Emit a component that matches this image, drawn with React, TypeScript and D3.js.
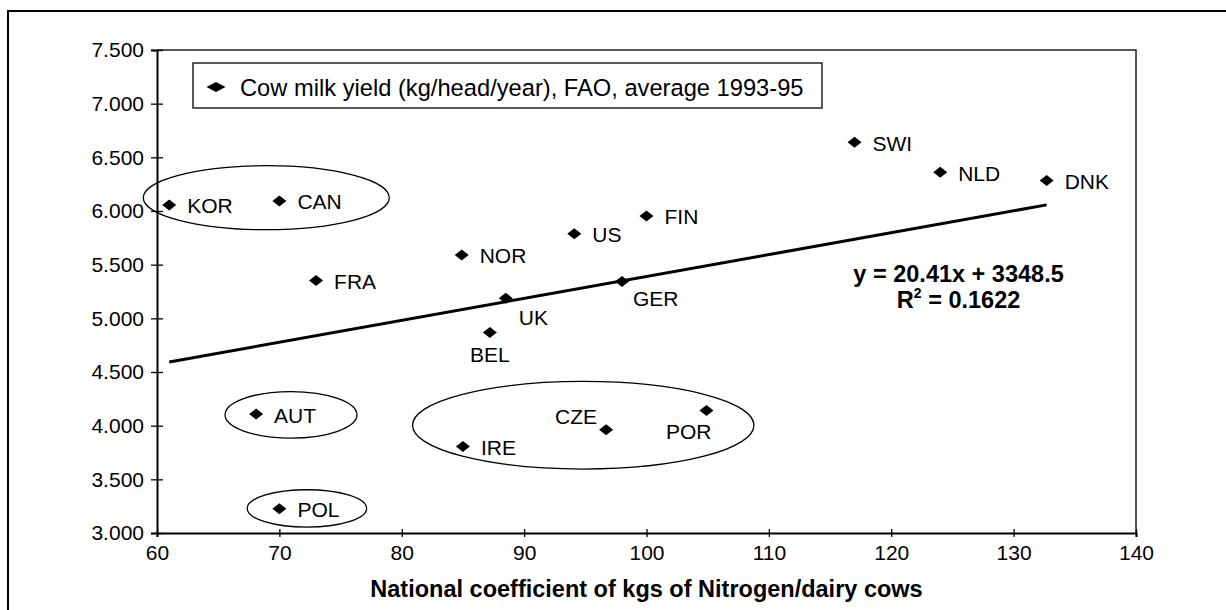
import { useEffect, useRef } from "react";
import * as d3 from "d3";

// Country codes and values
const countries = ["KOR", "CAN", "FRA", "NOR", "UK", "BEL", "AUT", "POL", "IRE", "CZE", "POR", "US", "FIN", "GER", "SWI", "NLD", "DNK"];
const nitrogen = [61, 70, 73, 84.9, 88.5, 87.2, 68.1, 70, 85, 96.7, 104.9, 94.1, 100, 98, 117, 124, 132.7];
const milkYield = [6057, 6094, 5352, 5591, 5188, 4868, 4108, 3226, 3806, 3962, 4142, 5787, 5954, 5343, 6640, 6361, 6283];

const xTicks = [60, 70, 80, 90, 100, 110, 120, 130, 140];
const yTicks = [3000, 3500, 4000, 4500, 5000, 5500, 6000, 6500, 7000, 7500];

// trend line shown on the chart
const slope = 20.41;
const intercept = 3348.5;

// groups circled on the chart (data units)
const groupCx = [68.93, 70.95, 72.25, 94.83];
const groupCy = [6124, 4101, 3229, 4004];
const groupRx = [10.05, 5.39, 4.88, 13.95];
const groupRy = [298, 217, 174, 408];

const legendText = "Cow milk yield (kg/head/year), FAO, average 1993-95";
const xTitle = "National coefficient of kgs of Nitrogen/dairy cows";

const FONT = "'Liberation Sans', Arial, sans-serif";

// label placement relative to the marker
const labelPos: Record<string, { dx: number; dy: number; anchor: string }> = {
    UK: { dx: 13, dy: 18, anchor: "start" },
    BEL: { dx: 0, dy: 21, anchor: "middle" },
    GER: { dx: 11, dy: 16, anchor: "start" },
    CZE: { dx: -9, dy: -14, anchor: "end" },
    POR: { dx: 5, dy: 20, anchor: "end" },
};

export default function App() {
    const svgRef = useRef<SVGSVGElement | null>(null);

    useEffect(() => {
        if (!svgRef.current) return;
        const root = d3.select(svgRef.current);
        root.selectAll("*").remove();

        const width = 1226;
        const height = 610;
        const margin = { top: 50, right: 90, bottom: 77, left: 157 };
        const innerWidth = width - margin.left - margin.right;
        const innerHeight = height - margin.top - margin.bottom;

        // outer frame, runs off the right and bottom edges
        root.append("rect")
            .attr("x", 8)
            .attr("y", 11)
            .attr("width", width)
            .attr("height", height)
            .attr("fill", "none")
            .attr("stroke", "#000")
            .attr("stroke-width", 2);

        const svg = root.append("g").attr("transform", `translate(${margin.left},${margin.top})`);

        const x = d3.scaleLinear().domain([60, 140]).range([0, innerWidth]);
        const y = d3.scaleLinear().domain([3000, 7500]).range([innerHeight, 0]);

        const fmt = d3.formatLocale({ decimal: ",", thousands: ".", grouping: [3], currency: ["", ""] }).format(",");

        // plot border (top/right thin)
        svg.append("path")
            .attr("d", `M0,0H${innerWidth}V${innerHeight}`)
            .attr("fill", "none")
            .attr("stroke", "#222")
            .attr("stroke-width", 1.5);

        // Y axis
        const yAxis = svg.append("g")
            .call(d3.axisLeft(y).tickValues(yTicks).tickSize(6).tickPadding(7).tickFormat((d) => fmt(d as number)));
        yAxis.select(".domain").attr("stroke-width", 2);
        yAxis.selectAll(".tick line").attr("x1", 6).attr("stroke-width", 1.3);
        yAxis.selectAll("text")
            .attr("font-family", FONT)
            .attr("font-size", 21)
            .attr("fill", "#000");

        // X axis
        const xAxis = svg.append("g")
            .attr("transform", `translate(0,${innerHeight})`)
            .call(d3.axisBottom(x).tickValues(xTicks).tickSize(4).tickPadding(8));
        xAxis.select(".domain").attr("stroke-width", 2);
        xAxis.selectAll(".tick line").attr("y1", -4).attr("stroke-width", 1.3);
        xAxis.selectAll("text")
            .attr("font-family", FONT)
            .attr("font-size", 21)
            .attr("fill", "#000");

        // X title
        svg.append("text")
            .attr("x", innerWidth / 2)
            .attr("y", innerHeight + 64)
            .attr("text-anchor", "middle")
            .attr("font-family", FONT)
            .attr("font-size", 23.5)
            .attr("font-weight", "bold")
            .text(xTitle);

        // circled groups
        svg.selectAll(".group")
            .data(groupCx)
            .enter()
            .append("ellipse")
            .attr("cx", (d) => x(d))
            .attr("cy", (_, i) => y(groupCy[i]))
            .attr("rx", (d, i) => x(d + groupRx[i]) - x(d))
            .attr("ry", (_, i) => y(groupCy[i] - groupRy[i]) - y(groupCy[i]))
            .attr("fill", "none")
            .attr("stroke", "#000")
            .attr("stroke-width", 1.3);

        // trend line
        const xMin = d3.min(nitrogen) as number;
        const xMax = d3.max(nitrogen) as number;
        svg.append("line")
            .attr("x1", x(xMin))
            .attr("y1", y(slope * xMin + intercept))
            .attr("x2", x(xMax))
            .attr("y2", y(slope * xMax + intercept))
            .attr("stroke", "#000")
            .attr("stroke-width", 3);

        const diamond = (hw: number, hh: number) => `M${-hw},0L0,${-hh}L${hw},0L0,${hh}Z`;

        // points
        svg.selectAll(".pt")
            .data(countries)
            .enter()
            .append("path")
            .attr("d", diamond(7, 5.5))
            .attr("transform", (_, i) => `translate(${x(nitrogen[i])},${y(milkYield[i])})`)
            .attr("fill", "#000");

        // point labels
        svg.selectAll(".lbl")
            .data(countries)
            .enter()
            .append("text")
            .attr("x", (d, i) => x(nitrogen[i]) + (labelPos[d]?.dx ?? 18))
            .attr("y", (d, i) => y(milkYield[i]) + 1 + (labelPos[d]?.dy ?? 0))
            .attr("dy", "0.36em")
            .attr("text-anchor", (d) => labelPos[d]?.anchor ?? "start")
            .attr("font-family", FONT)
            .attr("font-size", 21)
            .text((d) => d);

        // equation
        const eq = svg.append("g")
            .attr("font-family", FONT)
            .attr("font-weight", "bold")
            .attr("text-anchor", "middle");
        eq.append("text")
            .attr("x", x(125.5))
            .attr("y", y(5343))
            .attr("font-size", 23.5)
            .text(`y = ${slope}x + ${intercept}`);
        const r2 = eq.append("text")
            .attr("x", x(125.5))
            .attr("y", y(5343) + 26.5)
            .attr("font-size", 23.5);
        r2.append("tspan").text("R");
        r2.append("tspan").attr("font-size", 14).attr("dy", -10).text("2");
        r2.append("tspan").attr("dy", 10).text(" = 0.1622");

        // legend
        const lg = svg.append("g").attr("transform", "translate(36,13)");
        lg.append("rect")
            .attr("width", 629)
            .attr("height", 45)
            .attr("fill", "#fff")
            .attr("stroke", "#000")
            .attr("stroke-width", 1.3);
        lg.append("path")
            .attr("d", diamond(9.5, 5))
            .attr("transform", "translate(23,24)")
            .attr("fill", "#000");
        lg.append("text")
            .attr("x", 47)
            .attr("y", 24)
            .attr("dy", "0.36em")
            .attr("font-family", FONT)
            .attr("font-size", 23.7)
            .text(legendText);
    }, []);

    return (
        <svg
            ref={svgRef}
            width={1226}
            height={610}
            style={{ position: "absolute", left: 0, top: 0, background: "#fff", display: "block" }}
        />
    );
}
